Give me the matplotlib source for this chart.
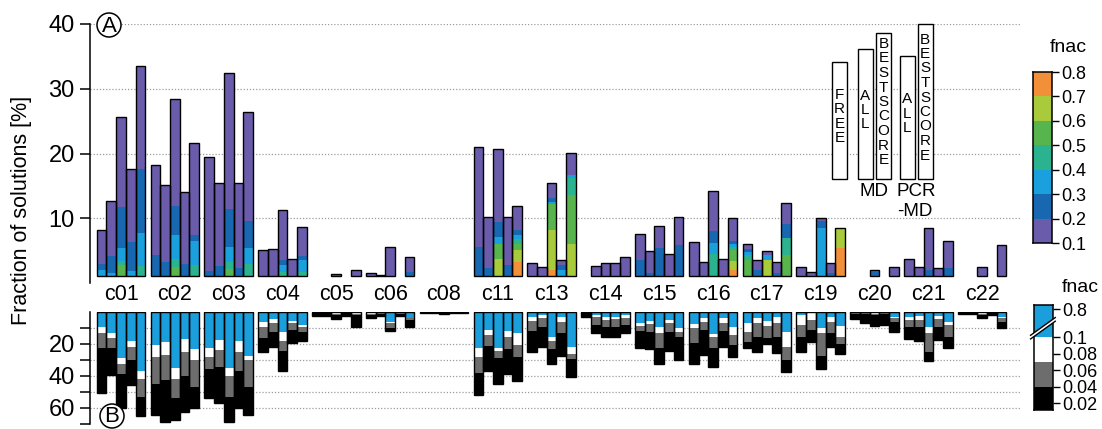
import matplotlib
matplotlib.use("Agg")
import matplotlib.pyplot as plt
from matplotlib.patches import Rectangle, Circle, Polygon
from matplotlib.transforms import blended_transform_factory

plt.rcParams["font.family"] = ["Liberation Sans", "DejaVu Sans"]

# ---------------------------------------------------------------- data
groups = ["c01", "c02", "c03", "c04", "c05", "c06", "c08", "c11", "c13",
          "c14", "c15", "c16", "c17", "c19", "c20", "c21", "c22"]
conditions = ["FREE", "MD ALL", "MD BESTSCORE", "PCR-MD ALL", "PCR-MD BESTSCORE"]

fnac_edges = [0.1, 0.2, 0.3, 0.4, 0.5, 0.6, 0.7, 0.8]
fnac_colors = ["#6a5bab", "#1767b1", "#19a0dd", "#2bb28f",
               "#58b54d", "#a9cb3b", "#f2903a"]

# Panel A: % of solutions in each fnac bin (0.1-0.2, 0.2-0.3, ... 0.7-0.8)
# for the five conditions of a target; None = no solutions
c01_a = [[5.3, 0.9, 0.9], [8.5, 2.7, 0.4], [14.0, 6.2, 2.05, 0.65, 1.7],
         [11.3, 4.4, 0.8], [15.9, 10.0, 5.0, 1.6]]
c02_a = [[13.9, 3.2], [11.8, 2.2], [16.6, 4.5, 3.6, 1.3, 1.4],
         [11.2, 1.8], [14.2, 0.9, 3.7, 1.7]]
c03_a = [[17.6, 0.8], [12.8, 1.5], [21.1, 5.8, 2.4, 1.0, 1.1],
         [13.0, 1.3], [16.9, 4.2, 2.4, 1.9]]
c04_a = [[4.0], [4.2], [7.65, 0.75, 1.05, 0.67], [2.7], [4.4, 0.65, 1.8, 0.67]]
c05_a = [None, None, [0.3], None, [0.9]]
c06_a = [[0.5], [0.1], [4.5], None, [2.25, 0.67]]
c08_a = [None, None, None, None, None]
c11_a = [[15.5, 4.5], [7.9, 1.2], [11.2, 2.3, 1.1, 0, 2.3, 2.7],
         [7.4, 1.7], [3.75, 0.8, 0.65, 0.65, 1.0, 1.8, 2.2]]
c13_a = [[1.95], [1.35], [2.4, 0.5, 0.4, 0, 4.0, 6.2, 0.9],
         [0.75, 0.7, 1.0], [3.4, 0, 0.5, 2.6, 7.5, 5.0]]
c14_a = [None, [1.5], [2.0], [2.0], [2.9]]
c15_a = [[3.95, 2.5], [3.5, 0.4], [3.3, 4.4], [3.4], [4.3, 4.8]]
c16_a = [[5.3], [2.1], [6.2, 1.8, 1.7, 3.4], [2.7],
         [3.5, 0.5, 0.4, 0.5, 1.65, 1.45, 0.9]]
c17_a = [[0.75, 0.4, 0.5, 0.8, 2.47], [1.6, 0.9], [0.65, 0, 0.75, 0, 0, 2.47],
         [1.8, 0.4], [3.1, 2.3, 0, 2.6, 3.2]]
c19_a = [[1.45], [0.67], [0.5, 1.15, 7.37], [1.55, 0.5],
         [0, 0, 0, 0, 0, 3.05, 4.3]]
c20_a = [None, None, [0.3, 0.62], None, [1.45]]
c21_a = [[2.6], [1.45], [6.35, 1.0], [1.3], [4.1, 1.3]]
c22_a = [None, None, [1.45], None, [4.8]]

panel_a = [c01_a, c02_a, c03_a, c04_a, c05_a, c06_a, c08_a, c11_a, c13_a,
           c14_a, c15_a, c16_a, c17_a, c19_a, c20_a, c21_a, c22_a]

# Panel B: cumulative % of solutions reaching each lower fnac band
# (blue: > 0.1, then white, grey and black bands towards 0.02)
c01_b = [[9.2, 12.9, 22.3, 50.4], [12.9, 16.0, 22.7, 39.4], [29.0, 32.5, 38.8, 59.8],
         [17.9, 21.7, 30.0, 45.6], [36.7, 41.9, 52.9, 65.0]]
c02_b = [[20.6, 27.9, 45.2, 64.4], [18.5, 26.9, 42.5, 68.5], [35.2, 41.9, 53.9, 67.5],
         [17.1, 24.8, 40.0, 62.3], [23.1, 30.0, 46.7, 60.2]]
c03_b = [[22.7, 28.3, 35.8, 53.9], [17.5, 23.8, 34.6, 56.7], [35.2, 39.8, 52.9, 68.5],
         [18.1, 24.8, 36.7, 60.2], [27.5, 30.0, 46.7, 64.4]]
c04_b = [[6.5, 9.6, 16.4, 25.2], [4.4, 7.1, 12.3, 21.7], [12.3, 18.1, 24.4, 36.9],
         [5.6, 7.1, 11.3, 19.6], [8.1, 9.6, 12.3, 18.1]]
c05_b = [[0, 0, 0.5, 2.3], [0, 0, 0.5, 2.3], [0.5, 1.0, 2.0, 4.4],
         [0, 0, 0.5, 2.3], [0.8, 1.2, 2.0, 9.2]]
c06_b = [[0.7, 1.5, 2.0, 3.5], [0.3, 0.6, 1.2, 2.3], [6.1, 7.1, 9.8, 11.9],
         [0.3, 0.6, 1.2, 2.3], [3.5, 3.5, 5.0, 9.2]]
c08_b = [[0, 0, 0.3, 0.8], [0, 0, 0.3, 0.8], [0, 0, 0.5, 1.3],
         [0, 0, 0.3, 0.8], [0, 0, 0.3, 0.8]]
c11_b = [[22.7, 27.9, 37.9, 51.9], [11.3, 14.4, 21.3, 36.7], [22.3, 24.2, 29.0, 45.0],
         [11.7, 15.8, 23.3, 38.8], [13.3, 20.6, 28.3, 43.1]]
c13_b = [[3.3, 5.4, 11.9, 24.8], [1.9, 3.9, 9.6, 21.7], [15.4, 17.9, 23.1, 32.5],
         [3.3, 6.0, 13.3, 27.5], [21.7, 26.3, 29.6, 40.8]]
c14_b = [[0, 0, 0.3, 3.3], [1.9, 2.9, 8.1, 12.9], [2.9, 5.0, 9.2, 15.8],
         [2.9, 4.6, 9.2, 15.4], [1.9, 3.9, 8.1, 12.9]]
c15_b = [[6.7, 8.8, 11.9, 22.7], [5.4, 7.7, 12.3, 23.3], [9.2, 13.3, 22.7, 32.5],
         [5.0, 7.1, 12.3, 24.2], [10.2, 12.3, 15.8, 30.0]]
c16_b = [[7.5, 10.2, 19.6, 32.5], [3.9, 6.5, 11.3, 26.9], [14.0, 15.8, 22.7, 34.6],
         [3.9, 6.7, 11.7, 21.7], [9.6, 14.4, 20.6, 27.9]]
c17_b = [[7.1, 12.7, 18.5, 22.3], [3.9, 7.1, 15.8, 24.8], [5.4, 8.5, 16.0, 20.2],
         [3.3, 7.1, 15.8, 25.4], [12.5, 21.7, 30.0, 37.3]]
c19_b = [[1.9, 8.1, 15.4, 24.8], [0.9, 5.0, 11.3, 18.5], [10.2, 12.9, 27.5, 35.8],
         [2.9, 6.0, 12.9, 21.7], [8.8, 15.4, 20.0, 26.3]]
c20_b = [[0, 0, 1.0, 4.6], [0, 0, 1.5, 7.1], [0.6, 1.0, 2.0, 8.8],
         [0, 0, 1.5, 8.3], [2.9, 3.6, 6.0, 12.3]]
c21_b = [[3.3, 5.0, 9.2, 17.1], [2.5, 5.0, 9.2, 17.9], [9.2, 13.3, 24.8, 30.6],
         [2.5, 4.6, 9.2, 17.5], [6.0, 8.1, 15.8, 22.7]]
c22_b = [[0, 0, 0.5, 1.5], [0, 0, 0.5, 1.5], [0.5, 1.0, 2.0, 3.5],
         [0, 0.3, 0.8, 2.0], [2.9, 3.8, 6.0, 9.8]]

panel_b = [c01_b, c02_b, c03_b, c04_b, c05_b, c06_b, c08_b, c11_b, c13_b,
           c14_b, c15_b, c16_b, c17_b, c19_b, c20_b, c21_b, c22_b]

b_colors = ["#1a9fdc", "white", "#6d6d6d", "black"]
b_bar_edges = [0.012, 0.04, 0.07, 0.1, 0.139]   # display scale of the B key
b_key_colors = ["black", "#6d6d6d", "white", "#1a9fdc"]
b_key_ticks = [0.02, 0.04, 0.06, 0.08, 0.1, 0.134]
b_key_labels = ["0.02", "0.04", "0.06", "0.08", "0.1", "0.8"]

key_words = ["FREE", "ALL", "BESTSCORE", "ALL", "BESTSCORE"]

# ---------------------------------------------------------------- layout
W, H = 1102, 429
fig = plt.figure(figsize=(W / 100, H / 100), dpi=100)


def fbox(x0, y0, x1, y1):
    """Figure-fraction rectangle from pixel corners (top-left origin)."""
    return [x0 / W, 1 - y1 / H, (x1 - x0) / W, (y1 - y0) / H]


PITCH = 5.55      # group spacing in bar widths
FLOOR = 1.08      # panel A bars rise from just above the origin
XLIM = (-3.2, 92.7)
EDGE = "black"
GRID = dict(color="#9c9c9c", linestyle=(0, (1, 1.5)), linewidth=0.9)


def xpos(g, k):
    return g * PITCH + (k - 2)


ax_a = fig.add_axes(fbox(90, 24, 1020, 283))
ax_b = fig.add_axes(fbox(90, 312, 1020, 424))
overlay = fig.add_axes([0, 0, 1, 1])
overlay.set_xlim(0, W)
overlay.set_ylim(H, 0)
overlay.axis("off")
overlay.patch.set_alpha(0)

# ---------------------------------------------------------------- panel A
for g, bars in enumerate(panel_a):
    for k, segs in enumerate(bars):
        if segs is None:
            continue
        x = xpos(g, k)
        bottom = FLOOR
        for i in reversed(range(len(segs))):
            h = segs[i]
            if h > 0:
                ax_a.bar(x, h, bottom=bottom, width=1.0, color=fnac_colors[i],
                         linewidth=0, zorder=2)
                bottom += h
        ax_a.bar(x, bottom - FLOOR, bottom=FLOOR, width=1.0, fill=False,
                 edgecolor=EDGE, linewidth=1.0, zorder=3)

ax_a.set_xlim(*XLIM)
ax_a.set_ylim(0, 40)
ax_a.set_yticks([10, 20, 30, 40])
ax_a.set_yticklabels(["10", "20", "30", "40"])
for y in [10, 20, 30, 40]:
    ax_a.axhline(y, zorder=1, **GRID)
ax_a.set_xticks([])
for s in ["top", "right", "bottom"]:
    ax_a.spines[s].set_visible(False)
ax_a.spines["left"].set_linewidth(1.1)
ax_a.tick_params(axis="y", direction="out", length=7, width=1.1,
                 labelsize=17, pad=4)
ax_a.patch.set_alpha(0)

# ---------------------------------------------------------------- panel B
for g, bars in enumerate(panel_b):
    for k, cum in enumerate(bars):
        x = xpos(g, k)
        prev = 0.0
        for depth, c in zip(cum, b_colors):
            if depth > prev:
                ax_b.bar(x, depth - prev, bottom=prev, width=1.0, color=c,
                         linewidth=0, zorder=2)
                prev = depth
        ax_b.bar(x, cum[-1], bottom=0, width=1.0, fill=False,
                 edgecolor=EDGE, linewidth=1.0, zorder=3)

ax_b.set_xlim(*XLIM)
ax_b.set_ylim(70, 0)
ax_b.set_yticks([10, 20, 30, 40, 50, 60, 70])
ax_b.set_yticklabels(["", "20", "", "40", "", "60", ""])
for y in [10, 20, 30, 40, 50, 60]:
    ax_b.axhline(y, zorder=1, **GRID)
ax_b.set_xticks([])
for s in ["top", "right", "bottom"]:
    ax_b.spines[s].set_visible(False)
ax_b.spines["left"].set_linewidth(1.1)
ax_b.tick_params(axis="y", direction="out", length=7, width=1.1,
                 labelsize=17, pad=4)
ax_b.patch.set_alpha(0)

# group names between the panels
lab_tr = blended_transform_factory(ax_a.transData, overlay.transData)
for g, name in enumerate(groups):
    overlay.text(xpos(g, 2), 300, name, transform=lab_tr, ha="center",
                 va="baseline", fontsize=15.5)

fig.text(22 / W, 1 - 210 / H, "Fraction of solutions [%]", rotation=90,
         ha="center", va="center", fontsize=15.5)

# panel letters
for (cx, cy), letter in [((109, 25), "A"), ((112, 416), "B")]:
    overlay.add_patch(Circle((cx, cy), 12, facecolor="white",
                             edgecolor="black", linewidth=1.1, zorder=5))
    overlay.text(cx, cy + 1, letter, ha="center", va="center",
                 fontsize=16, zorder=6)

# ---------------------------------------------------------------- condition key
key_left = [832, 858, 876, 899.5, 917.5]
key_top = [62, 49, 33, 56, 24]
key_bottom = 179
key_w = 15
for xl, yt, word in zip(key_left, key_top, key_words):
    overlay.add_patch(Rectangle((xl, yt), key_w, key_bottom - yt,
                                facecolor="white", edgecolor="black",
                                linewidth=1.0, zorder=4))
    step = 14.5
    mid = (yt + key_bottom) / 2 - 4
    n = len(word)
    for i, ch in enumerate(word):
        overlay.text(xl + key_w / 2, mid + (i - (n - 1) / 2) * step, ch,
                     ha="center", va="center", fontsize=11, zorder=5)
overlay.text(874, 192, "MD", ha="center", va="center", fontsize=13.5)
overlay.text(916, 192, "PCR", ha="center", va="center", fontsize=13.5)
overlay.text(915, 211, "-MD", ha="center", va="center", fontsize=13.5)

# ---------------------------------------------------------------- colour keys
cax_a = fig.add_axes(fbox(1033, 72, 1052, 243))
for lo, hi, c in zip(fnac_edges[:-1], fnac_edges[1:], fnac_colors):
    cax_a.axhspan(lo, hi, color=c, linewidth=0)
cax_a.set_ylim(fnac_edges[0], fnac_edges[-1])
cax_a.set_xlim(0, 1)
cax_a.set_xticks([])
cax_a.yaxis.tick_right()
cax_a.set_yticks(fnac_edges)
cax_a.set_yticklabels([f"{v:.1f}" for v in fnac_edges])
cax_a.tick_params(axis="y", length=5, width=1.0, labelsize=13, pad=1.5)
for s in cax_a.spines.values():
    s.set_linewidth(1.1)
overlay.text(1068, 47, "fnac", ha="center", va="center", fontsize=14)

cax_b = fig.add_axes(fbox(1034, 305, 1053, 410))
for lo, hi, c in zip(b_bar_edges[:-1], b_bar_edges[1:], b_key_colors):
    cax_b.axhspan(lo, hi, color=c, linewidth=0)
cax_b.set_ylim(b_bar_edges[0], b_bar_edges[-1])
cax_b.set_xlim(0, 1)
cax_b.set_xticks([])
cax_b.yaxis.tick_right()
cax_b.set_yticks(b_key_ticks)
cax_b.set_yticklabels(b_key_labels)
cax_b.tick_params(axis="y", length=5, width=1.0, labelsize=13, pad=1.5)
for s in cax_b.spines.values():
    s.set_linewidth(1.1)
# axis break in the blue band
x0, x1 = -0.18, 1.12
y0, slope, gap = 0.70, 0.13, 0.035
band = Polygon([(x0, y0 + slope * x0), (x1, y0 + slope * x1),
                (x1, y0 + slope * x1 + gap), (x0, y0 + slope * x0 + gap)],
               closed=True, facecolor="white", edgecolor="none",
               transform=cax_b.transAxes, clip_on=False, zorder=5)
cax_b.add_patch(band)
for off in (0, gap):
    cax_b.plot([x0, x1], [y0 + slope * x0 + off, y0 + slope * x1 + off],
               color="black", linewidth=1.0, transform=cax_b.transAxes,
               clip_on=False, zorder=6)
overlay.text(1080, 288, "fnac", ha="center", va="center", fontsize=14)

fig.savefig("out.png", dpi=100)
